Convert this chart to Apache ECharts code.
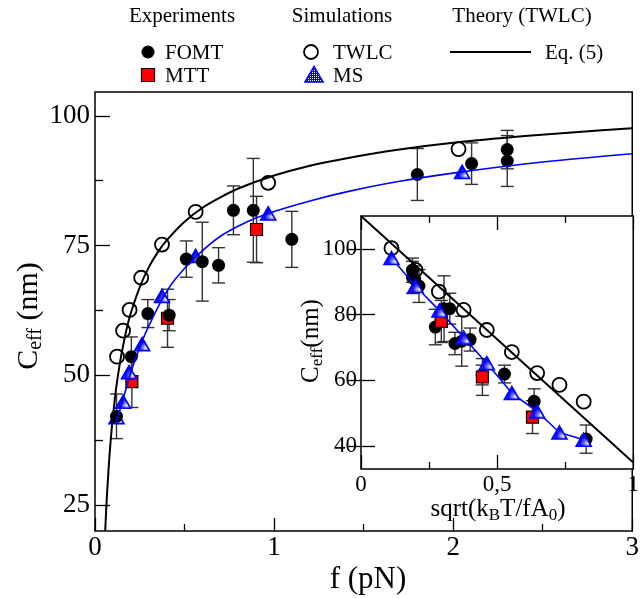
<!DOCTYPE html>
<html><head><meta charset="utf-8">
<script src="https://cdn.jsdelivr.net/npm/echarts@6/dist/echarts.min.js"></script>
<style>html,body{margin:0;padding:0;background:#fff}#c{width:642px;height:598px}</style>
</head><body><div id="c"></div>
<script>
// ---------- main panel data (f in pN, C_eff in nm) ----------
const fomtF   = [0.12, 0.203, 0.295, 0.414, 0.51, 0.599, 0.69, 0.773, 0.884, 1.099, 1.80, 2.103, 2.302, 2.302];
const fomtC   = [42.1, 53.6, 61.9, 61.6, 72.4, 71.9, 71.2, 81.8, 81.8, 76.2, 88.7, 90.8, 91.3, 93.5];
const fomtErr = [4.3, 3.8, 2.7, 3.0, 3.5, 7.6, 3.4, 4.7, 10.0, 5.4, 5.0, 4.0, 4.9, 3.7];
const mttF    = [0.206, 0.405, 0.902];
const mttC    = [48.8, 61.0, 78.1];
const mttErr  = [5.0, 5.6, 6.4];
const twlcF   = [0.123, 0.157, 0.193, 0.258, 0.374, 0.562, 0.967, 2.03];
const twlcC   = [53.6, 58.6, 62.6, 68.8, 75.2, 81.5, 87.1, 93.6];
const msF     = [0.12, 0.157, 0.19, 0.263, 0.374, 0.562, 0.967, 2.05];
const msC     = [41.9, 44.9, 50.6, 56.0, 65.3, 73.0, 81.2, 89.2];
const eq5F    = [0.057, 0.06, 0.065, 0.07, 0.08, 0.09, 0.1, 0.11, 0.12, 0.135, 0.15, 0.175, 0.2, 0.25, 0.3, 0.35, 0.4, 0.5, 0.6, 0.7, 0.8, 1.0, 1.2, 1.4, 1.7, 2.0, 2.4, 2.7, 3.0];
const eq5C    = [20.0, 22.3, 25.8, 28.8, 34.1, 38.4, 42.1, 45.2, 48.0, 51.5, 54.5, 58.7, 62.0, 67.0, 70.8, 73.7, 76.0, 79.6, 82.3, 84.3, 86.0, 88.5, 90.4, 91.8, 93.5, 94.8, 96.1, 96.9, 97.6];
const msFitF  = [0.12, 0.157, 0.19, 0.22, 0.263, 0.3, 0.374, 0.45, 0.562, 0.7, 0.85, 0.967, 1.2, 1.41, 1.685, 2.05, 2.5, 3.0];
const msFitC  = [41.0, 45.4, 49.4, 52.6, 56.6, 59.5, 64.6, 68.6, 72.8, 76.8, 79.6, 81.2, 83.6, 85.4, 87.3, 89.2, 91.1, 92.7];
// ---------- inset data (s = sqrt(kBT/fA0)) ----------
const inFomtS   = [0.827, 0.636, 0.527, 0.445, 0.401, 0.370, 0.345, 0.326, 0.305, 0.273, 0.213, 0.197, 0.189, 0.189];
const inFomtC   = [42.1, 53.6, 61.9, 61.6, 72.4, 71.9, 71.2, 81.8, 81.8, 76.2, 88.7, 90.8, 91.3, 93.5];
const inFomtErr = [4.3, 3.8, 2.7, 3.0, 3.5, 7.6, 3.4, 4.7, 10.0, 5.4, 5.0, 4.0, 4.9, 3.7];
const inMttS    = [0.63, 0.446, 0.295];
const inMttC    = [48.8, 61.0, 77.9];
const inMttErr  = [5.0, 5.6, 6.4];
const inTwlcS   = [0.112, 0.2, 0.286, 0.377, 0.462, 0.554, 0.647, 0.729, 0.818];
const inTwlcC   = [100.2, 93.6, 87.0, 81.4, 75.3, 68.6, 62.2, 58.6, 53.5];
const inMsS     = [0.112, 0.2, 0.288, 0.377, 0.462, 0.554, 0.647, 0.729, 0.818];
const inMsC     = [97.2, 88.7, 81.2, 73.0, 65.2, 56.1, 50.5, 44.1, 41.9];
const inEq5S    = [0, 1];
const inEq5C    = [110, 35];
// ---------- ticks ----------
const mainYTicks  = [25, 50, 75, 100];
const mainYMinor  = [37.5, 62.5, 87.5];
const insetYTicks = [40, 60, 80, 100];

const FONT = "'Liberation Serif', 'DejaVu Serif', serif";
const zip = (a, b) => a.map((v, i) => [v, b[i]]);
const zip3 = (a, b, c) => a.map((v, i) => [v, b[i], c[i]]);

const pc = document.createElement('canvas'); pc.width = 2; pc.height = 2;
const g = pc.getContext('2d'); g.fillStyle = '#0000ff'; g.fillRect(0, 0, 2, 2); g.fillStyle = '#ffffff'; g.fillRect(0, 0, 1, 1);
const triFill = { image: pc, repeat: 'repeat' };

function errBars(xi, yi, cap) {
  return {
    type: 'custom', xAxisIndex: xi, yAxisIndex: yi, silent: true,
    renderItem(params, api) {
      const x = api.value(0), y = api.value(1), e = api.value(2);
      const t = api.coord([x, y + e]), b = api.coord([x, y - e]);
      const st = { stroke: '#333', lineWidth: 1.4 };
      return { type: 'group', children: [
        { type: 'line', shape: { x1: t[0], y1: t[1], x2: b[0], y2: b[1] }, style: st },
        { type: 'line', shape: { x1: t[0] - cap, y1: t[1], x2: t[0] + cap, y2: t[1] }, style: st },
        { type: 'line', shape: { x1: b[0] - cap, y1: b[1], x2: b[0] + cap, y2: b[1] }, style: st }
      ]};
    },
    encode: { x: 0, y: 1 }
  };
}

const chart = echarts.init(document.getElementById('c'), null, { renderer: 'canvas' });
const axisBase = { axisLine: { show: false }, splitLine: { show: false } };
const option = {
  animation: false,
  backgroundColor: '#fff',
  grid: [
    { left: 95, top: 92, width: 543, height: 439, show: true, borderColor: '#000', borderWidth: 1.5, backgroundColor: 'transparent' },
    { left: 361, top: 216, width: 274, height: 253, show: true, borderColor: '#000', borderWidth: 1.5, backgroundColor: '#fff' }
  ],
  xAxis: [
    Object.assign({ type: 'value', gridIndex: 0, min: 0, max: 3, interval: 1,
      axisTick: { inside: true, length: 13, lineStyle: { color: '#000', width: 1.3 } },
      minorTick: { show: true, splitNumber: 2, length: 7, lineStyle: { color: '#000', width: 1.3 } },
      axisLabel: { color: '#000', fontFamily: FONT, fontSize: 27, margin: 3, alignMinLabel: 'center', alignMaxLabel: 'center', hideOverlap: false } }, axisBase),
    Object.assign({ type: 'value', gridIndex: 1, min: 0, max: 1, interval: 0.5,
      axisTick: { inside: true, length: 14, lineStyle: { color: '#000', width: 1.3 } },
      minorTick: { show: true, splitNumber: 2, length: 7, lineStyle: { color: '#000', width: 1.3 } },
      axisLabel: { color: '#000', fontFamily: FONT, fontSize: 23, margin: 4, alignMinLabel: 'center', alignMaxLabel: 'center',
        formatter: v => (v === 0.5 ? '0,5' : String(v)) } }, axisBase),
    Object.assign({ type: 'value', gridIndex: 1, position: 'top', min: 0, max: 1, interval: 0.5,
      axisTick: { inside: true, length: 14, lineStyle: { color: '#000', width: 1.3 } },
      minorTick: { show: true, splitNumber: 2, length: 7, lineStyle: { color: '#000', width: 1.3 } },
      axisLabel: { show: false } }, axisBase)
  ],
  yAxis: [
    Object.assign({ type: 'value', gridIndex: 0, position: 'left', min: 20, max: 104.6,
      axisTick: { inside: true, length: 15, customValues: mainYTicks, lineStyle: { color: '#000', width: 1.3 } },
      axisLabel: { customValues: mainYTicks, color: '#000', fontFamily: FONT, fontSize: 27, margin: 5 } }, axisBase),
    Object.assign({ type: 'value', gridIndex: 0, position: 'left', min: 20, max: 104.6,
      axisTick: { inside: true, length: 8, customValues: mainYMinor, lineStyle: { color: '#000', width: 1.3 } },
      axisLabel: { show: false } }, axisBase),
    Object.assign({ type: 'value', gridIndex: 1, position: 'left', min: 33, max: 110,
      axisTick: { inside: true, length: 14, customValues: insetYTicks, lineStyle: { color: '#000', width: 1.3 } },
      axisLabel: { customValues: insetYTicks, color: '#000', fontFamily: FONT, fontSize: 23, margin: 4 } }, axisBase),
    Object.assign({ type: 'value', gridIndex: 1, position: 'right', min: 33, max: 110,
      axisTick: { inside: true, length: 14, customValues: insetYTicks, lineStyle: { color: '#000', width: 1.3 } },
      axisLabel: { show: false } }, axisBase)
  ],
  series: [
    // main panel
    { type: 'line', xAxisIndex: 0, yAxisIndex: 0, data: zip(eq5F, eq5C), showSymbol: false, smooth: 0.3,
      lineStyle: { color: '#000', width: 2 }, clip: true, silent: true },
    { type: 'line', xAxisIndex: 0, yAxisIndex: 0, data: zip(msFitF, msFitC), showSymbol: false, smooth: 0.3,
      lineStyle: { color: '#0000ff', width: 1.6 }, clip: true, silent: true },
    Object.assign(errBars(0, 0, 6.5), { data: zip3(fomtF, fomtC, fomtErr).concat(zip3(mttF, mttC, mttErr)) }),
    { type: 'scatter', xAxisIndex: 0, yAxisIndex: 0, data: zip(mttF, mttC), symbol: 'rect', symbolSize: 12,
      itemStyle: { color: '#ff0000', borderColor: '#000', borderWidth: 1.2, opacity: 1 } },
    { type: 'scatter', xAxisIndex: 0, yAxisIndex: 0, data: zip(msF, msC), symbol: 'triangle', symbolSize: [15, 13],
      itemStyle: { color: triFill, borderColor: '#0000ff', borderWidth: 1.6, opacity: 1 } },
    { type: 'scatter', xAxisIndex: 0, yAxisIndex: 0, data: zip(fomtF, fomtC), symbol: 'circle', symbolSize: 13,
      itemStyle: { color: '#000', opacity: 1 } },
    { type: 'scatter', xAxisIndex: 0, yAxisIndex: 0, data: zip(twlcF, twlcC), symbol: 'circle', symbolSize: 14,
      itemStyle: { color: 'rgba(0,0,0,0)', borderColor: '#000', borderWidth: 1.8, opacity: 1 } },
    // inset
    { type: 'line', xAxisIndex: 1, yAxisIndex: 2, data: zip(inEq5S, inEq5C), showSymbol: false,
      lineStyle: { color: '#000', width: 2 }, clip: true, silent: true },
    Object.assign(errBars(1, 2, 6.5), { data: zip3(inFomtS, inFomtC, inFomtErr).concat(zip3(inMttS, inMttC, inMttErr)) }),
    { type: 'scatter', xAxisIndex: 1, yAxisIndex: 2, data: zip(inFomtS, inFomtC), symbol: 'circle', symbolSize: 13,
      itemStyle: { color: '#000', opacity: 1 } },
    { type: 'scatter', xAxisIndex: 1, yAxisIndex: 2, data: zip(inTwlcS, inTwlcC), symbol: 'circle', symbolSize: 14,
      itemStyle: { color: 'rgba(0,0,0,0)', borderColor: '#000', borderWidth: 1.8, opacity: 1 } },
    { type: 'scatter', xAxisIndex: 1, yAxisIndex: 2, data: zip(inMttS, inMttC), symbol: 'rect', symbolSize: 12,
      itemStyle: { color: '#ff0000', borderColor: '#000', borderWidth: 1.2, opacity: 1 } },
    { type: 'line', xAxisIndex: 1, yAxisIndex: 2, data: zip(inMsS, inMsC), symbol: 'triangle', symbolSize: [15, 13], showSymbol: true,
      lineStyle: { color: '#0000ff', width: 1.6 }, itemStyle: { color: triFill, borderColor: '#0000ff', borderWidth: 1.6, opacity: 1 } }
  ],
  graphic: [
    // legend headers
    { type: 'text', x: 182, y: 16, style: { text: 'Experiments', fontFamily: FONT, fontSize: 21, fill: '#000', align: 'center', verticalAlign: 'middle' } },
    { type: 'text', x: 342, y: 16, style: { text: 'Simulations', fontFamily: FONT, fontSize: 21, fill: '#000', align: 'center', verticalAlign: 'middle' } },
    { type: 'text', x: 522, y: 16, style: { text: 'Theory (TWLC)', fontFamily: FONT, fontSize: 21, fill: '#000', align: 'center', verticalAlign: 'middle' } },
    // legend symbols
    { type: 'circle', shape: { cx: 148, cy: 52, r: 6.5 }, style: { fill: '#000' } },
    { type: 'rect', shape: { x: 141.5, y: 68.5, width: 13, height: 13 }, style: { fill: '#ff0000', stroke: '#000', lineWidth: 1.2 } },
    { type: 'circle', shape: { cx: 311, cy: 52, r: 7 }, style: { fill: 'none', stroke: '#000', lineWidth: 1.8 } },
    { type: 'polygon', shape: { points: [[314, 66.5], [323, 82], [305, 82]] }, style: { fill: triFill, stroke: '#0000ff', lineWidth: 1.6 } },
    { type: 'line', shape: { x1: 450, y1: 52, x2: 531, y2: 52 }, style: { stroke: '#000', lineWidth: 2 } },
    // legend labels
    { type: 'text', x: 165, y: 53, style: { text: 'FOMT', fontFamily: FONT, fontSize: 21, fill: '#000', align: 'left', verticalAlign: 'middle' } },
    { type: 'text', x: 165, y: 76, style: { text: 'MTT', fontFamily: FONT, fontSize: 21, fill: '#000', align: 'left', verticalAlign: 'middle' } },
    { type: 'text', x: 333, y: 53, style: { text: 'TWLC', fontFamily: FONT, fontSize: 21, fill: '#000', align: 'left', verticalAlign: 'middle' } },
    { type: 'text', x: 333, y: 76, style: { text: 'MS', fontFamily: FONT, fontSize: 21, fill: '#000', align: 'left', verticalAlign: 'middle' } },
    { type: 'text', x: 545, y: 53, style: { text: 'Eq. (5)', fontFamily: FONT, fontSize: 21, fill: '#000', align: 'left', verticalAlign: 'middle' } },
    // axis titles
    { type: 'text', x: 368, y: 580, style: { text: 'f (pN)', fontFamily: FONT, fontSize: 31, fill: '#000', align: 'center', verticalAlign: 'middle' } },
    { type: 'text', x: 29, y: 316, rotation: Math.PI / 2, style: {
        text: '{n|C}{s|eff}{n| (nm)}', align: 'center', verticalAlign: 'middle', fill: '#000',
        rich: { n: { fontFamily: FONT, fontSize: 30, fill: '#000' }, s: { fontFamily: FONT, fontSize: 20, fill: '#000', padding: [14, 0, 0, 0] } } } },
    { type: 'text', x: 498, y: 509, style: {
        text: '{n|sqrt(k}{s|B}{n|T/fA}{s|0}{n|)}', align: 'center', verticalAlign: 'middle', fill: '#000',
        rich: { n: { fontFamily: FONT, fontSize: 25, fill: '#000' }, s: { fontFamily: FONT, fontSize: 17, fill: '#000', padding: [13, 0, 0, 0] } } } },
    { type: 'text', x: 311, y: 341, rotation: Math.PI / 2, style: {
        text: '{n|C}{s|eff}{n|(nm)}', align: 'center', verticalAlign: 'middle', fill: '#000',
        rich: { n: { fontFamily: FONT, fontSize: 25, fill: '#000' }, s: { fontFamily: FONT, fontSize: 17, fill: '#000', padding: [13, 0, 0, 0] } } } }
  ]
};
chart.setOption(option);
</script></body></html>
